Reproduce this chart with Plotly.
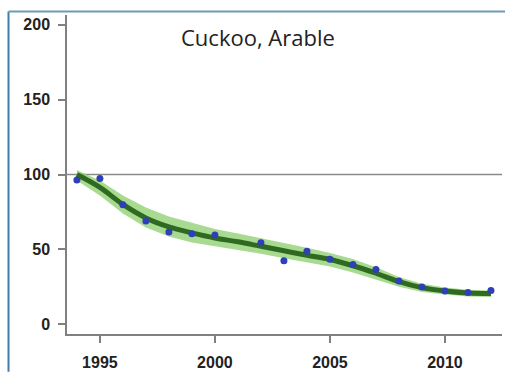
import plotly.graph_objects as go

years = list(range(1994, 2013))
index_values = [96.3, 97.4, 79.7, 68.9, 61.6, 60.4, 59.6, None, 54.4, 42.3, 48.7,
                43.4, 39.8, 36.5, 28.8, 24.8, 22.1, 21.2, 22.4]
trend = [100, 91.4, 80, 71, 65, 61, 57.6, 55, 52, 49, 46, 43.2, 39, 34, 28.4,
         24.4, 22.1, 20.8, 20.4]
upper = [103, 96, 86, 78, 72, 67.5, 63.5, 60.5, 57.5, 54, 51, 47.5, 43.5, 38,
         31.5, 27, 24.5, 23, 22.5]
lower = [96, 86, 74, 64.5, 58.5, 54.5, 52, 49.5, 47, 44, 41, 38.5, 34.5, 30,
         25, 21.5, 19.8, 18.5, 18.2]
y_ticks = [0, 50, 100, 150, 200]
x_ticks = [1995, 2000, 2005, 2010]
title = "Cuckoo, Arable"
baseline = 100

W, H = 505, 374
L, T = 67, 15
PW, PH = 435, 321
R = W - L - PW
B = H - T - PH

fig = go.Figure()
fig.add_trace(go.Scatter(x=years + years[::-1], y=upper + lower[::-1], fill="toself",
                         fillcolor="rgba(140,205,110,0.75)", line=dict(width=0),
                         mode="lines", hoverinfo="skip", showlegend=False))
fig.add_trace(go.Scatter(x=years, y=trend, mode="lines", line=dict(color="#2e6a1f", width=5, shape="spline"),
                         showlegend=False))
fig.add_trace(go.Scatter(x=years, y=index_values, mode="markers",
                         marker=dict(color="#2f3fb5", size=7), showlegend=False))

fig.add_shape(type="line", xref="paper", yref="y", x0=0, x1=1, y0=baseline, y1=baseline,
              line=dict(color="#8a8a8a", width=1.5), layer="below")
# outer frame (left and top edges)
bx = (8.5 - L) / PW
by = 1 + (T - 11.5) / PH
fig.add_shape(type="line", xref="paper", yref="paper", x0=bx, x1=bx, y0=(336 - 374) / PH, y1=by,
              line=dict(color="#3d7db3", width=2), layer="below")
fig.add_shape(type="line", xref="paper", yref="paper", x0=bx, x1=(W - L) / PW, y0=by, y1=by,
              line=dict(color="#6b9cb3", width=2), layer="below")

fig.add_annotation(text=title, xref="paper", yref="paper", x=(258 - L) / PW, y=(336 - 37) / PH,
                   showarrow=False, font=dict(family="Open Sans", size=22, color="#222"),
                   xanchor="center", yanchor="middle")

axis_common = dict(showgrid=False, zeroline=False, showline=True, linecolor="#808080", linewidth=1.5,
                   ticks="outside", ticklen=7, tickcolor="#808080", tickwidth=1.5,
                   tickfont=dict(family="Liberation Sans", size=16, color="#222", weight="bold"))
fig.update_xaxes(range=[1993.57, 2012.48], tickvals=x_ticks, ticklabelstandoff=6, **axis_common)
fig.update_yaxes(range=[-6.6, 206.6], tickvals=y_ticks, ticklabelstandoff=5, **axis_common)

fig.update_layout(width=W, height=H, margin=dict(l=L, r=R, t=T, b=B),
                  plot_bgcolor="white", paper_bgcolor="white")
fig.write_html(
    "out.html",
    config={"displayModeBar": False},
    post_script=("document.body.style.margin='0';document.body.style.overflow='hidden';"
                 "document.documentElement.style.overflow='hidden';"),
)
